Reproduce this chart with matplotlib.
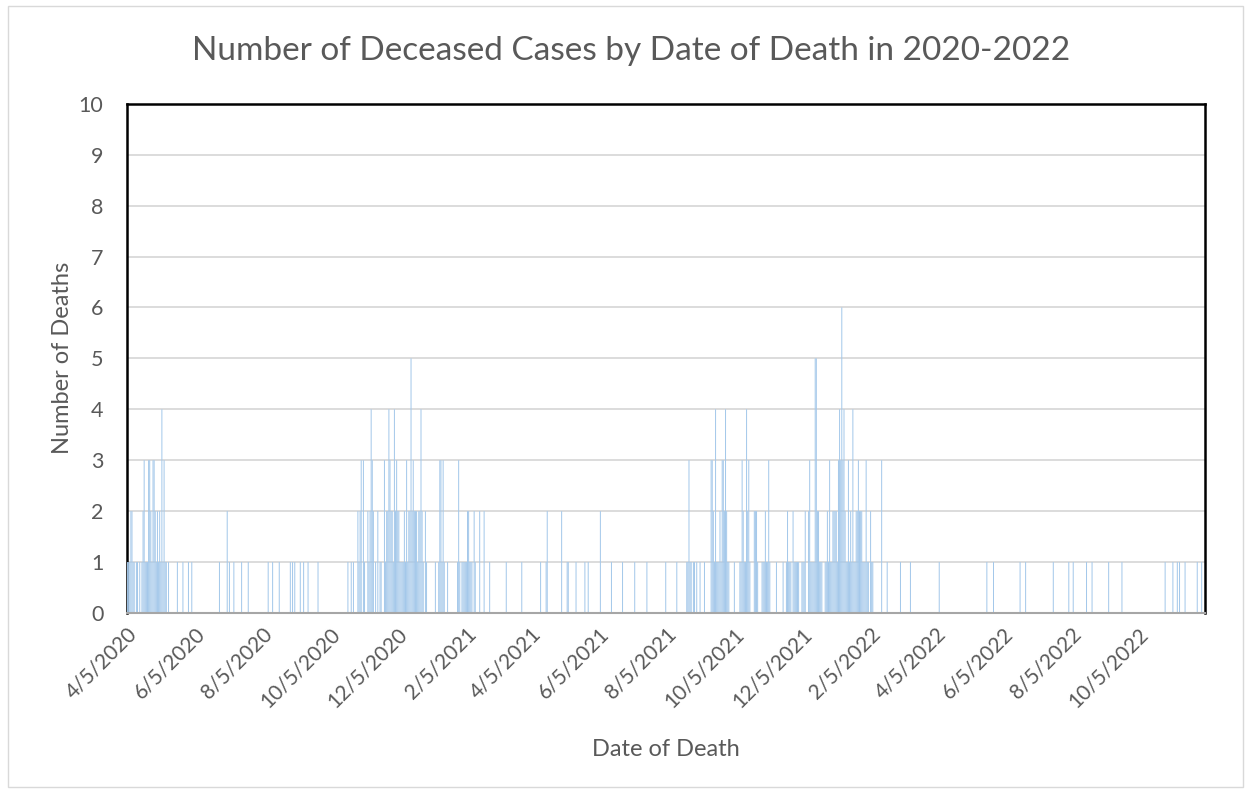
from datetime import datetime

import matplotlib
matplotlib.use("Agg")
from matplotlib import pyplot as plt
from matplotlib.patches import Rectangle

plt.rcParams["font.family"] = ["Lato", "DejaVu Sans"]

START = datetime(2020, 4, 5)
N_DAYS = 973.5  # axis length in days, counted from START

# days since 4/5/2020 with at least one death, and the count on that day
day_offset = [
    0, 1, 2, 3, 4, 5, 6, 8, 9, 11,
    13, 14, 15, 16, 17, 18, 19, 20, 21, 22,
    23, 24, 25, 26, 27, 28, 29, 30, 31, 32,
    33, 34, 35, 37, 45, 50, 55, 58, 83, 90,
    92, 96, 103, 109, 127, 131, 137, 147, 149, 151,
    156, 159, 163, 172, 199, 202, 204, 208, 209, 210,
    211, 213, 214, 217, 218, 219, 220, 221, 222, 224,
    226, 228, 229, 232, 233, 234, 235, 236, 237, 238,
    239, 240, 241, 242, 243, 244, 245, 246, 247, 248,
    249, 250, 251, 252, 253, 254, 255, 256, 257, 258,
    259, 260, 261, 262, 263, 264, 265, 266, 267, 269,
    270, 278, 281, 282, 283, 284, 285, 286, 289, 298,
    299, 300, 302, 303, 304, 305, 306, 307, 308, 309,
    310, 311, 313, 314, 318, 322, 327, 342, 356, 373,
    378, 379, 392, 397, 398, 405, 413, 416, 427, 437,
    447, 458, 469, 486, 496, 505, 506, 507, 508, 509,
    511, 512, 514, 517, 521, 527, 528, 529, 530, 531,
    532, 533, 534, 535, 536, 537, 538, 539, 540, 541,
    542, 543, 548, 553, 554, 555, 556, 557, 558, 559,
    560, 561, 562, 566, 567, 568, 569, 573, 574, 575,
    576, 577, 578, 579, 580, 586, 592, 595, 596, 597,
    598, 599, 601, 602, 603, 604, 605, 606, 609, 610,
    611, 612, 615, 616, 617, 618, 619, 620, 621, 622,
    623, 624, 625, 626, 627, 630, 631, 632, 633, 634,
    635, 636, 637, 638, 639, 640, 641, 642, 643, 644,
    645, 646, 647, 648, 649, 650, 651, 652, 653, 654,
    655, 656, 657, 658, 659, 660, 661, 662, 663, 664,
    665, 666, 667, 668, 669, 671, 672, 673, 681, 686,
    698, 707, 733, 776, 782, 806, 811, 836, 850, 854,
    866, 871, 886, 898, 937, 944, 948, 950, 955, 966,
    970,
]
deaths = [
    1, 1, 1, 2, 2, 1, 1, 1, 1, 1,
    1, 2, 3, 1, 1, 1, 3, 3, 2, 1,
    3, 3, 2, 1, 2, 1, 2, 1, 4, 1,
    3, 1, 1, 1, 1, 1, 1, 1, 1, 2,
    1, 1, 1, 1, 1, 1, 1, 1, 1, 1,
    1, 1, 1, 1, 1, 1, 1, 2, 1, 2,
    3, 3, 1, 2, 1, 2, 4, 3, 2, 1,
    2, 1, 1, 3, 1, 2, 2, 4, 3, 2,
    2, 1, 4, 2, 3, 2, 2, 1, 1, 1,
    1, 2, 1, 3, 1, 2, 2, 5, 2, 3,
    2, 2, 2, 1, 2, 2, 4, 2, 1, 2,
    1, 1, 1, 3, 3, 1, 3, 1, 1, 1,
    3, 1, 1, 1, 1, 1, 1, 2, 2, 1,
    1, 1, 2, 1, 2, 2, 1, 1, 1, 1,
    1, 2, 2, 1, 1, 1, 1, 1, 2, 1,
    1, 1, 1, 1, 1, 1, 1, 3, 1, 1,
    1, 1, 1, 1, 1, 3, 3, 2, 1, 4,
    1, 1, 1, 2, 1, 3, 3, 2, 4, 2,
    1, 1, 1, 1, 1, 3, 2, 1, 1, 4,
    2, 3, 1, 2, 2, 2, 1, 1, 1, 1,
    2, 1, 1, 3, 1, 1, 1, 1, 2, 1,
    1, 1, 2, 1, 1, 1, 1, 1, 1, 1,
    1, 2, 2, 3, 1, 1, 1, 1, 5, 5,
    2, 2, 1, 1, 1, 1, 1, 2, 1, 3,
    1, 1, 2, 2, 2, 2, 1, 3, 4, 3,
    6, 3, 4, 2, 1, 1, 3, 1, 2, 1,
    4, 1, 1, 2, 2, 3, 2, 2, 2, 1,
    1, 1, 3, 1, 1, 2, 1, 1, 3, 1,
    1, 1, 1, 1, 1, 1, 1, 1, 1, 1,
    1, 1, 1, 1, 1, 1, 1, 1, 1, 1,
    1,
]

tick_labels = [
    "4/5/2020", "6/5/2020", "8/5/2020", "10/5/2020", "12/5/2020",
    "2/5/2021", "4/5/2021", "6/5/2021", "8/5/2021", "10/5/2021",
    "12/5/2021", "2/5/2022", "4/5/2022", "6/5/2022", "8/5/2022",
    "10/5/2022",
]

grey = "#595959"

fig = plt.figure(figsize=(12.5, 7.93), dpi=100)
ax = fig.add_axes([0.1016, 0.227, 0.8624, 0.6422])

# thin day columns, drawn without pixel snapping so none of them vanish
ax.bar([d + 0.5 for d in day_offset], deaths, width=0.9,
       color="#A4C8EA", linewidth=0, snap=False, zorder=3)

ax.set_xlim(0, N_DAYS)
ax.set_ylim(0, 10)
ax.set_yticks(range(0, 11))
ax.yaxis.grid(True, color="#D9D9D9", linewidth=1.3, zorder=0)

tick_pos = [(datetime.strptime(s, "%m/%d/%Y") - START).days for s in tick_labels]
ax.set_xticks(tick_pos)
ax.set_xticklabels(tick_labels, rotation=45, ha="right", va="top",
                   rotation_mode="anchor")
ax.tick_params(axis="x", length=0, pad=8, labelsize=15, labelcolor=grey)
ax.tick_params(axis="y", length=0, pad=17, labelsize=15.5, labelcolor=grey)

for side in ["left", "top", "right"]:
    ax.spines[side].set_color("black")
    ax.spines[side].set_linewidth(1.8)
ax.spines["bottom"].set_color("#A6A6A6")
ax.spines["bottom"].set_linewidth(1.5)
ax.spines["bottom"].set_zorder(4)

ax.set_ylabel("Number of Deaths", fontsize=17, color=grey, labelpad=4)
ax.set_xlabel("Date of Death", fontsize=17, color=grey, labelpad=20)
fig.text(0.505, 0.936, "Number of Deceased Cases by Date of Death in 2020-2022",
         ha="center", va="center", fontsize=24, color=grey)

fig.patches.append(Rectangle((0.006, 0.008), 0.988, 0.984, transform=fig.transFigure,
                             fill=False, edgecolor="#D9D9D9", linewidth=1))

plt.savefig("out.png", dpi=100)
